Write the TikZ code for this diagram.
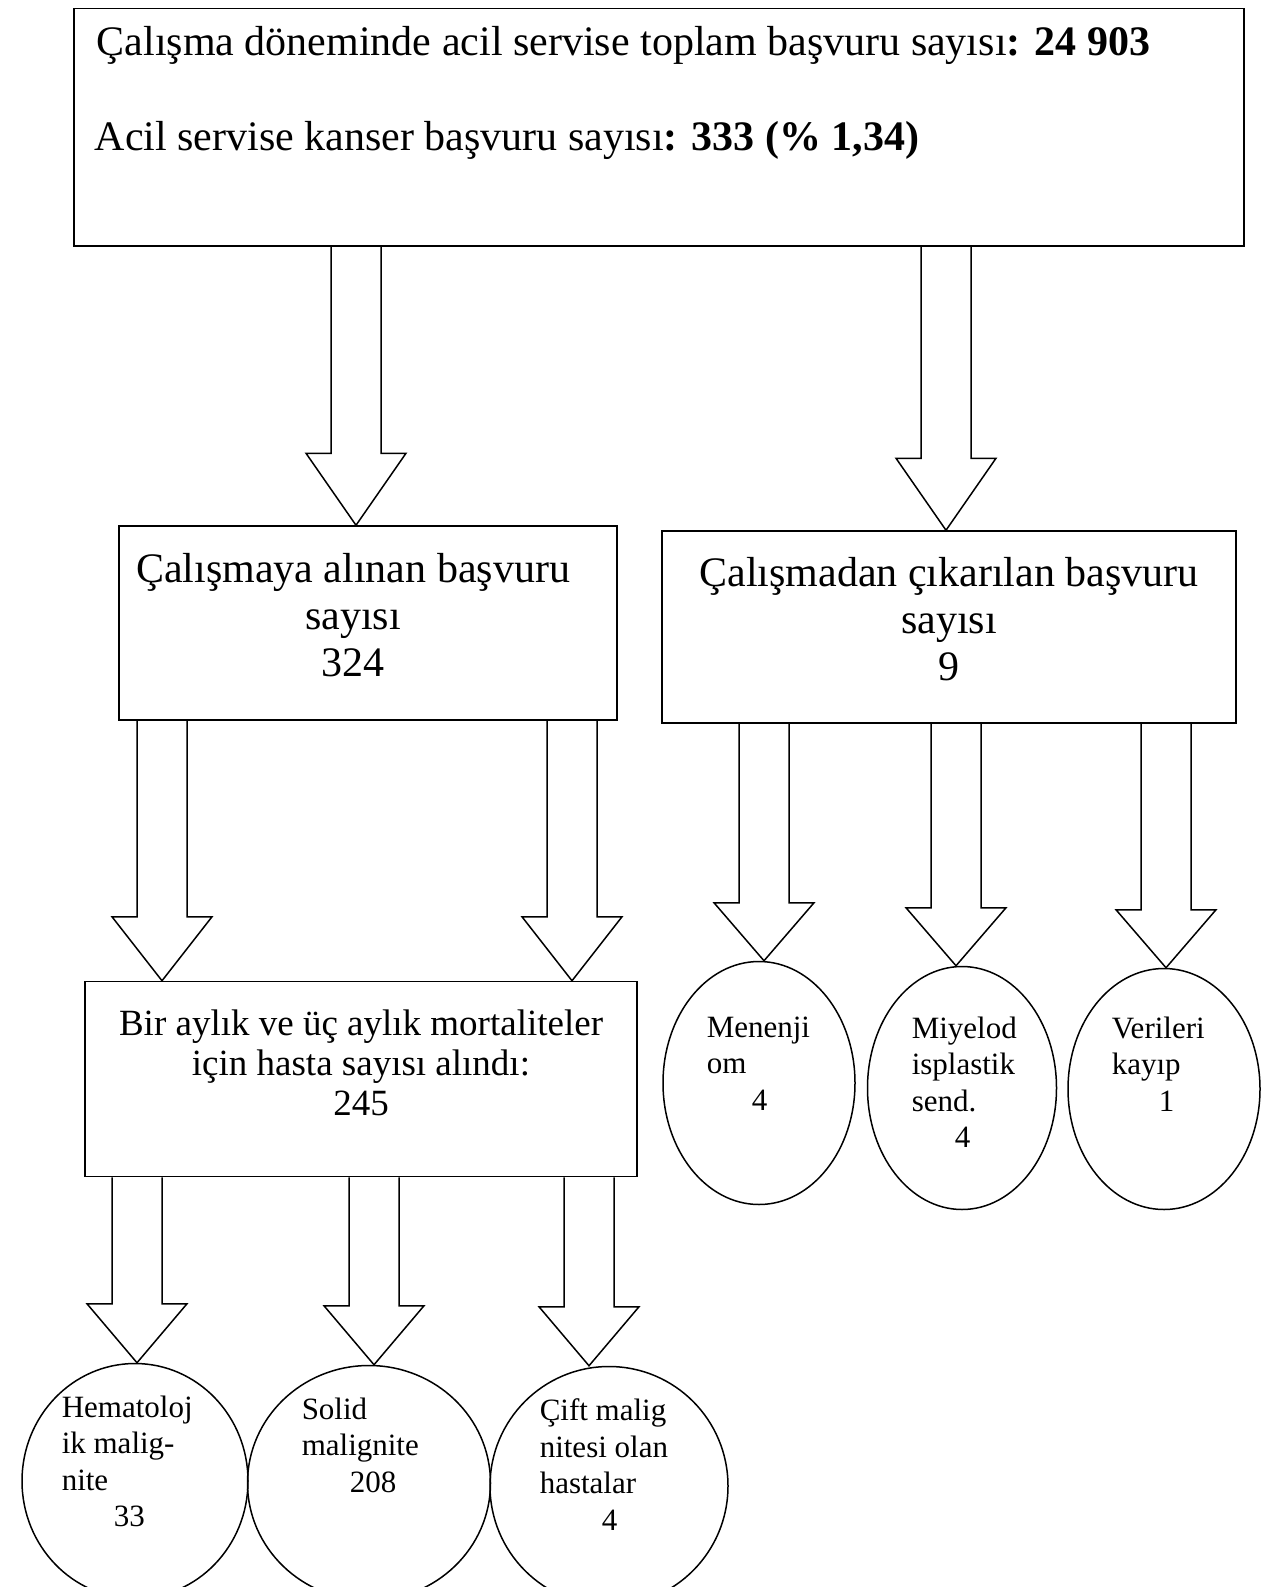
\documentclass[tikz,border=0pt]{standalone}
\usepackage{fontspec}
\setmainfont{Liberation Serif}
\usetikzlibrary{shapes.geometric,calc}

% hollow block arrow: x of its axis, node it leaves, node it points at, head length
\newcommand{\blockarrow}[4]{%
  \draw[line join=miter] ({#1-25},0 |- #2.south) -- ($({#1-25},0 |- #3.north)+(0,-#4)$) -- ++(-25,0)
    -- ({#1},0 |- #3.north) -- ++(50,-#4) -- ++(-25,0) -- ({#1+25},0 |- #2.south);
}

\begin{document}
\begin{tikzpicture}[x=1pt,y=-1pt,line width=1.5pt,
  box/.style={draw,inner sep=0},
  boxtext/.style={inner sep=0,align=center,font=\fontsize{42}{47}\selectfont},
  oval/.style={draw,ellipse,inner sep=0},
  ovaltext/.style={anchor=north west,inner sep=0,align=left,font=\fontsize{31}{36.5}\selectfont}]

  \useasboundingbox (0,0) rectangle (1271,1587);

  % Boxes
  \node[box,anchor=north west,minimum width=1170,minimum height=237] (total) at (73,8) {};
  \node[anchor=base west,inner sep=0,font=\fontsize{42}{50}\selectfont] (line1) at ([xshift=23pt,yshift=-48pt]total.north west)
    {Çalışma döneminde acil servise toplam başvuru sayısı\textbf{: 24 903}};
  \node[anchor=base west,inner sep=0,font=\fontsize{42}{50}\selectfont] (line2) at ([xshift=21pt,yshift=-142pt]total.north west)
    {Acil servise kanser başvuru sayısı\textbf{: 333 (\% 1,34)}};

  \node[box,minimum width=498,minimum height=194] (incl) at (368,623) {};
  \node[boxtext] (inclt) at ([xshift=-15pt,yshift=8pt]incl.center) {Çalışmaya alınan başvuru\\sayısı\\324};
  \node[box,minimum width=574,minimum height=192] (excl) at (949,627) {};
  \node[boxtext] (exclt) at ([yshift=8pt]excl.center) {Çalışmadan çıkarılan başvuru\\sayısı\\9};
  \node[box,minimum width=552,minimum height=195] (mort) at (361,1079) {};
  \node[boxtext,font=\fontsize{37}{40}\selectfont] (mortt) at ([yshift=16pt]mort.center)
    {Bir aylık ve üç aylık mortaliteler\\için hasta sayısı alındı:\\245};

  % Ellipses
  \node[oval,minimum width=192,minimum height=243] (men) at (759,1083) {};
  \node[oval,minimum width=189,minimum height=243] (miy) at (962,1088) {};
  \node[oval,minimum width=192,minimum height=241] (ver) at (1164,1089) {};
  \node[oval,minimum width=226,minimum height=235] (hem) at (135,1481) {};
  \node[oval,minimum width=243,minimum height=235] (solid) at (369,1483) {};
  \node[oval,minimum width=238,minimum height=239] (cift) at (609,1486) {};

  \node[ovaltext] (ment) at (706,1016) {Menenji\\om\\\hspace*{45pt}4};
  \node[ovaltext] (miyt) at (911,1016) {Miyelod\\isplastik\\send.\\\hspace*{43pt}4};
  \node[ovaltext] (vert) at (1111,1016) {Verileri\\kayıp\\\hspace*{47pt}1};
  \node[ovaltext] (hemt) at (61,1395) {Hematoloj\\ik malig-\\nite\\\hspace*{52pt}33};
  \node[ovaltext] (solidt) at (301,1397) {Solid\\malignite\\\hspace*{48pt}208};
  \node[ovaltext] (ciftt) at (539,1398) {Çift malig\\nitesi olan\\hastalar\\\hspace*{62pt}4};

  % Arrows
  \blockarrow{356}{total}{incl}{72}
  \blockarrow{946}{total}{excl}{72}
  \blockarrow{162}{incl}{mort}{64}
  \blockarrow{572}{incl}{mort}{64}
  \blockarrow{764}{excl}{men}{58}
  \blockarrow{956}{excl}{miy}{58}
  \blockarrow{1166}{excl}{ver}{58}
  \blockarrow{137}{mort}{hem}{59}
  \blockarrow{374}{mort}{solid}{59}
  \blockarrow{589}{mort}{cift}{59}

\end{tikzpicture}
\end{document}
